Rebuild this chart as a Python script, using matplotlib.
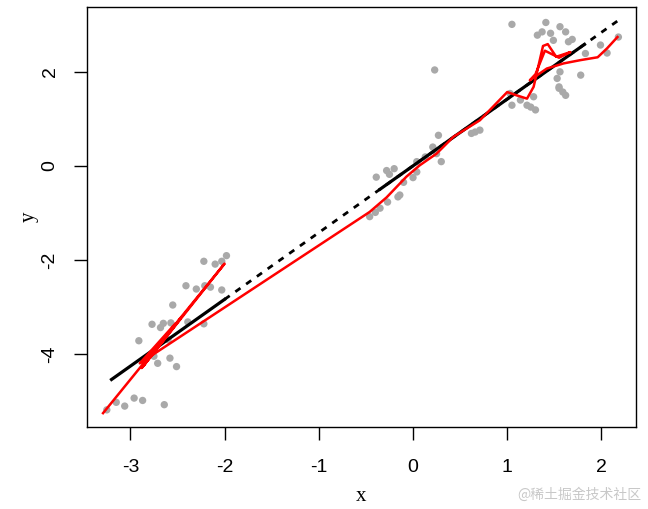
import numpy as np
import matplotlib
matplotlib.use("Agg")
import matplotlib.pyplot as plt

# ==========================
# DATA
# ==========================

# gray observations
x_pts = [-3.25, -3.15, -3.06, -2.96, -2.87, -2.64, -2.91, -2.77, -2.68, -2.65,
         -2.57, -2.39, -2.22, -2.71, -2.58, -2.51, -2.55, -2.41, -2.30, -2.21,
         -2.15, -2.03, -2.22, -2.10, -2.03, -1.98, -2.75, -2.60,
         -0.39, -0.28, -0.20, -0.25, -0.16, -0.27, -0.40, -0.46, -0.14, 0.00,
         0.04, 0.04, 0.25, 0.30, 0.27, 0.21, 0.13, -0.35, -0.10,
         0.23,
         0.62, 0.71, 0.66, 1.03, 1.05, 1.14, 1.28, 1.30, 1.21, 1.25,
         1.55, 1.53, 1.05, 1.41, 1.32, 1.37, 1.46, 1.49, 1.56, 1.62,
         1.65, 1.69, 1.83, 1.99, 2.06, 1.78, 1.56, 1.55, 1.59, 1.62, 2.18]
y_pts = [-5.19, -5.03, -5.11, -4.94, -4.99, -5.08, -3.72, -3.37, -3.44, -3.35,
         -3.34, -3.32, -3.36, -4.20, -4.09, -4.27, -2.96, -2.55, -2.62, -2.55,
         -2.58, -2.64, -2.03, -2.09, -2.03, -1.91, -4.05, -3.70,
         -0.24, -0.10, -0.06, -0.18, -0.66, -0.77, -0.99, -1.08, -0.62, -0.25,
         -0.13, 0.09, 0.26, 0.09, 0.65, 0.40, 0.19, -0.90, -0.35,
         2.04,
         0.69, 0.76, 0.72, 1.54, 1.29, 1.40, 1.47, 1.19, 1.29, 1.25,
         1.65, 1.86, 3.01, 3.05, 2.78, 2.85, 2.82, 2.67, 2.96, 2.85,
         2.64, 2.69, 2.39, 2.57, 2.40, 1.93, 2.00, 1.68, 1.57, 1.50, 2.74]

# linear fit (black)
fit_coef = [0.0, 1.42]
fit_solid = [(-3.20, -2.00), (-0.35, 1.82)]
fit_dash = (-2.00, 2.20)

# fitted values drawn in data order (red)
red_x = [-3.29, -2.00, -2.86, -2.47, -2.88, -2.52, -2.90, -0.46, -0.28, -0.07,
         0.07, 0.25, 0.43, 0.71, 1.00, 1.10, 1.21, 1.28, 1.38, 1.43,
         1.52, 1.67, 1.55, 1.40, 1.30, 1.24, 1.42, 1.60, 1.78, 1.96,
         2.06, 2.17]
red_y = [-5.26, -2.08, -4.25, -3.25, -4.30, -3.35, -4.20, -0.98, -0.67, -0.23,
         0.01, 0.26, 0.62, 0.97, 1.57, 1.50, 1.43, 1.68, 2.55, 2.59,
         2.32, 2.42, 2.30, 2.45, 1.95, 1.82, 2.07, 2.18, 2.25, 2.31,
         2.50, 2.74]

x_ticks = [-3, -2, -1, 0, 1, 2]
y_ticks = [-4, -2, 0, 2]

# ==========================
# PLOT
# ==========================

plt.rcParams["lines.scale_dashes"] = False

fig = plt.figure(figsize=(6.48, 5.09), dpi=100)
ax = fig.add_axes([0.1343, 0.162, 0.8472, 0.8234])

ax.scatter(x_pts, y_pts, s=28, color="#a9a9a9", edgecolors="none", zorder=2)


def fit(xs):
    return fit_coef[0] + fit_coef[1] * np.asarray(xs)


xd = np.linspace(fit_dash[0], fit_dash[1], 50)
ax.plot(xd, fit(xd), color="black", lw=2.0, linestyle=(0, (4.5, 5.0)), zorder=3)
for lo, hi in fit_solid:
    xs = np.linspace(lo, hi, 50)
    ax.plot(xs, fit(xs), color="black", lw=2.3, zorder=3)

ax.plot(red_x, red_y, color="#ff0000", lw=1.8, zorder=4)

ax.set_xlim(-3.46, 2.367)
ax.set_ylim(-5.545, 3.37)
ax.set_xticks(x_ticks)
ax.set_yticks(y_ticks)
ax.set_xticklabels([str(t) for t in x_ticks], family="Liberation Sans", fontsize=14)
ax.set_yticklabels([str(t) for t in y_ticks], family="Liberation Sans", fontsize=14,
                   rotation=90, va="center")
ax.tick_params(axis="both", direction="out", length=9.5, width=1.0, color="black")
ax.tick_params(axis="x", pad=14)
ax.tick_params(axis="y", pad=11)
for sp in ax.spines.values():
    sp.set_linewidth(1.0)

ax.set_xlabel("x", family="Liberation Serif", fontsize=15)
ax.set_ylabel("y", family="Liberation Serif", fontsize=15)
ax.xaxis.set_label_coords(0.5, -0.145)
ax.yaxis.set_label_coords(-0.088, 0.5)

fig.text(0.99, 0.014, "@稀土掘金技术社区", color="#c8c8c8", fontsize=10,
         family=["Noto Sans CJK SC", "DejaVu Sans"], ha="right", va="bottom")

plt.savefig("out.png", dpi=100)
